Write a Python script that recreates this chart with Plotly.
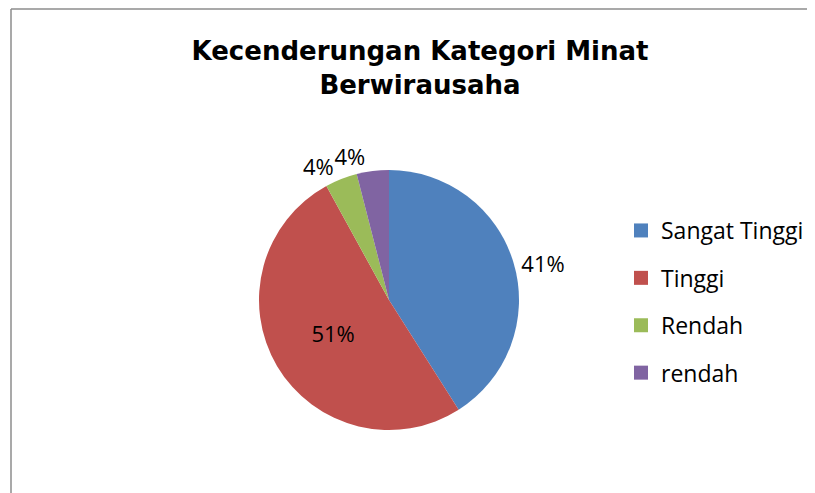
import plotly.graph_objects as go

categories = ["Sangat Tinggi", "Tinggi", "Rendah", "rendah"]
values = [41, 51, 4, 4]
colors = ["#4F81BD", "#C0504D", "#9BBB59", "#8064A2"]
# main pie labels; the last small slice is labelled by an overlay trace so
# the two small outside labels are not stacked by plotly's label scooting
text_positions_main = ["outside", "inside", "outside", "none"]
text_positions_overlay = ["none", "none", "none", "outside"]

W, H = 815, 493
OFF = 8  # page body margin

def px_x(x):
    return (x - OFF) / W

def px_y(y):
    return 1 - (y - OFF) / H

cx, cy, r = 389, 300, 130
pie_domain = dict(x=[px_x(cx - r), px_x(cx + r)], y=[px_y(cy + r), px_y(cy - r)])
label_font = dict(family="Open Sans", size=22, color="#000000")

fig = go.Figure()
fig.add_trace(go.Pie(
    labels=categories,
    values=values,
    sort=False,
    direction="clockwise",
    rotation=0,
    marker=dict(colors=colors, line=dict(width=0)),
    texttemplate="%{percent:.0%}",
    textposition=text_positions_main,
    textfont=label_font,
    insidetextfont=label_font,
    insidetextorientation="horizontal",
    showlegend=False,
    domain=pie_domain,
))
fig.add_trace(go.Pie(
    labels=categories,
    values=values,
    sort=False,
    direction="clockwise",
    rotation=0,
    marker=dict(colors=["rgba(0,0,0,0)"] * len(values), line=dict(width=0)),
    texttemplate="%{percent:.0%}",
    textposition=text_positions_overlay,
    textfont=label_font,
    showlegend=False,
    hoverinfo="skip",
    domain=pie_domain,
))

# legend entries (one group each so spacing can match the reference)
for name, col in zip(categories, colors):
    fig.add_trace(go.Scatter(
        x=[None], y=[None], mode="markers", name=name,
        marker=dict(symbol="square", size=14, color=col),
        legendgroup=name, showlegend=True, hoverinfo="skip",
    ))

fig.update_layout(
    width=W, height=H,
    margin=dict(l=0, r=0, t=0, b=0),
    paper_bgcolor="white",
    plot_bgcolor="white",
    xaxis=dict(visible=False),
    yaxis=dict(visible=False),
    title=dict(
        text="Kecenderungan Kategori Minat<br>Berwirausaha",
        font=dict(family="DejaVu Sans", size=26, color="#000000", weight="bold"),
        x=(420 - OFF) / W, xanchor="center",
        y=1 - 52 / H, yanchor="middle", yref="container",
    ),
    legend=dict(
        x=613 / W, xanchor="left",
        y=1 - 201 / H, yanchor="top",
        font=dict(family="Open Sans", size=23, color="#000000"),
        tracegroupgap=14.5,
        itemsizing="trace",
        bgcolor="rgba(0,0,0,0)",
    ),
    shapes=[
        dict(type="line", xref="paper", yref="paper",
             x0=px_x(11), x1=1.0, y0=px_y(9), y1=px_y(9),
             line=dict(color="#8C8C8C", width=1.5)),
        dict(type="line", xref="paper", yref="paper",
             x0=px_x(11), x1=px_x(11), y0=0, y1=px_y(9),
             line=dict(color="#8C8C8C", width=1.5)),
    ],
)

fig.write_html("out.html")
